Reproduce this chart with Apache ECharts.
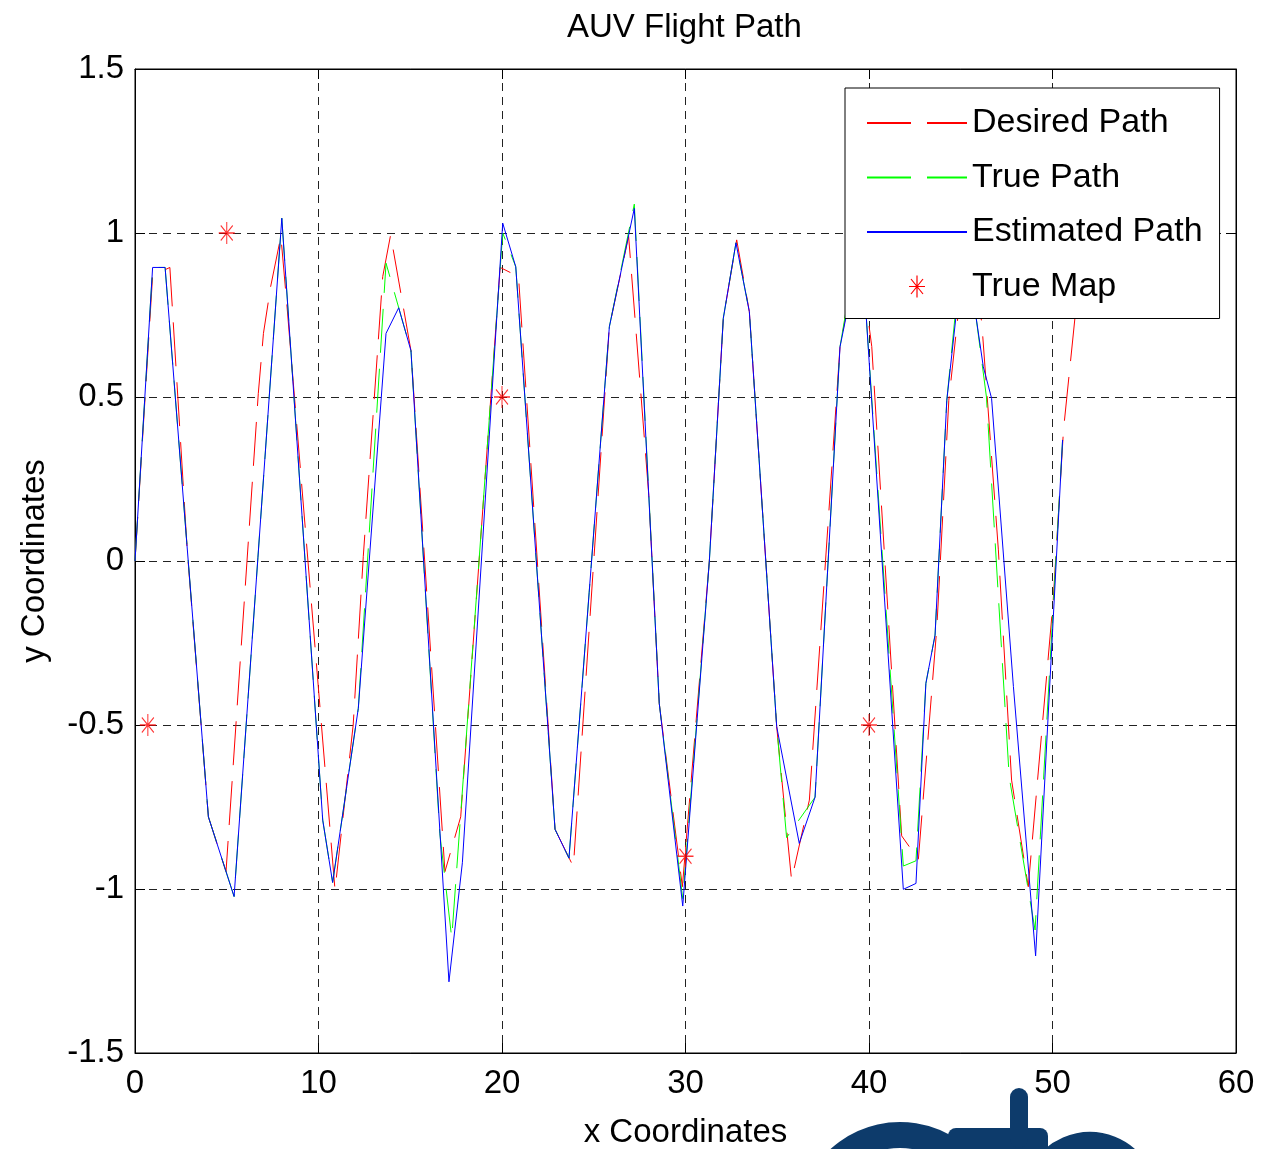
<!DOCTYPE html>
<html><head><meta charset="utf-8">
<script src="https://cdn.jsdelivr.net/npm/echarts@6/dist/echarts.min.js"></script>
<style>html,body{margin:0;padding:0;background:#fff}#c{width:1272px;height:1149px}</style>
</head><body><div id="c"></div>
<script>
// ---- data ----
const desiredX = [0, 0.96, 1.9, 2.85, 4.0, 4.96, 6.72, 7.0, 7.39, 7.95, 8.27, 10.9, 11.89, 12.44, 13.5, 13.93, 15.04, 16.89, 17.75, 19.9, 20.9, 22.89, 23.89, 25.85, 26.9, 28.0, 28.57, 29.83, 31.3, 32.06, 32.79, 33.48, 34.97, 35.78, 36.75, 38.42, 39.5, 39.96, 40.15, 41.78, 42.69, 43.7, 44.35, 45.3, 46.14, 47.05, 47.77, 48.68, 50.04, 50.6, 51.23, 52.0];
const desiredY = [0, 0.87, 0.895, 0.03, -0.78, -0.947, 0.511, 0.694, 0.836, 0.99, 0.786, -1.003, -0.5, 0.013, 0.867, 0.994, 0.641, -0.947, -0.78, 0.895, 0.867, -0.818, -0.932, 0.714, 0.99, 0.2, -0.434, -0.993, 0.0, 0.74, 0.979, 0.76, -0.505, -0.973, -0.729, 0.653, 0.98, 0.735, 0.654, -0.838, -0.91, -0.2, 0.49, 0.98, 0.73, 0.034, -0.668, -0.993, -0.119, 0.4, 0.745, 1.0];

const trueX = [0, 0.96, 1.64, 4.0, 5.4, 8.0, 10.23, 10.77, 12.17, 13.68, 15.04, 16.61, 17.26, 20.04, 20.75, 22.89, 23.65, 25.85, 27.21, 28.57, 29.85, 31.3, 32.06, 32.75, 33.48, 34.97, 35.51, 37.06, 38.42, 39.4, 39.85, 41.87, 42.56, 43.1, 43.6, 44.24, 45.1, 45.83, 46.4, 47.64, 49.05, 50.55];
const trueY = [0, 0.895, 0.895, -0.78, -1.023, 1.045, -0.79, -0.98, -0.449, 0.908, 0.641, -0.83, -1.15, 1.0, 0.897, -0.818, -0.906, 0.714, 1.088, -0.434, -1.03, 0.0, 0.74, 0.97, 0.76, -0.505, -0.843, -0.72, 0.653, 0.98, 0.745, -0.93, -0.914, -0.373, -0.226, 0.49, 0.98, 0.745, 0.5, -0.658, -1.125, 0.369];

const estX = [0, 0.96, 1.64, 4.0, 5.4, 8.0, 10.23, 10.77, 12.17, 13.68, 14.37, 15.04, 17.11, 17.84, 20.04, 20.75, 22.89, 23.65, 25.85, 27.21, 28.57, 29.85, 31.3, 32.06, 32.75, 33.48, 34.97, 36.2, 37.06, 38.42, 39.5, 39.85, 41.87, 42.56, 43.1, 43.6, 44.24, 45.2, 45.83, 46.23, 46.68, 47.87, 49.08, 50.55];
const estY = [0, 0.895, 0.895, -0.78, -1.023, 1.045, -0.79, -0.98, -0.449, 0.694, 0.772, 0.641, -1.283, -0.92, 1.03, 0.897, -0.818, -0.906, 0.714, 1.075, -0.434, -1.052, 0.0, 0.74, 0.97, 0.76, -0.505, -0.861, -0.72, 0.653, 0.95, 0.745, -1.001, -0.983, -0.373, -0.226, 0.49, 0.98, 0.745, 0.592, 0.496, -0.383, -1.204, 0.369];

const mapX = [0.7, 5, 20, 30, 40];
const mapY = [-0.5, 1, 0.5, -0.9, -0.5];

const seriesNames = ['Desired Path', 'True Path', 'Estimated Path', 'True Map'];
const xTicks = [0, 10, 20, 30, 40, 50, 60];
const yTicks = [-1.5, -1, -0.5, 0, 0.5, 1, 1.5];
// --------------------------------------

const zip = (xs, ys) => xs.map((x, i) => [x, ys[i]]);
const FONT = 'Liberation Sans, Arial, Helvetica, sans-serif';
const starPath = 'path://M0,-11L0,11M-8,0L8,0M-6,-7.5L6,7.5M-6,7.5L6,-7.5';
const dash = [44, 16];
const NAVY = '#0d3b6b';

const chart = echarts.init(document.getElementById('c'), null, {renderer: 'canvas'});
const axisCommon = {
  type: 'value',
  axisLine: {show: true, onZero: false, lineStyle: {color: '#000', width: 1}},
  axisTick: {show: true, inside: true, length: 10, lineStyle: {color: '#000', width: 1}},
  minorTick: {show: false}
};
chart.setOption({
  animation: false,
  backgroundColor: '#fff',
  textStyle: {fontFamily: FONT, color: '#000'},
  title: {
    text: 'AUV Flight Path', left: 562, top: 6,
    textStyle: {fontFamily: FONT, fontSize: 33, fontWeight: 'normal', color: '#000'}
  },
  grid: {left: 135, top: 69, width: 1101, height: 984, show: true, borderColor: '#000', borderWidth: 1,
         backgroundColor: '#fff', containLabel: false, outerBoundsMode: 'none'},
  legend: {
    orient: 'vertical', left: 845, top: 88, z: 20,
    padding: [18, 17, 15, 21],
    itemWidth: 100, itemHeight: 22, itemGap: 20.5, itemTextGap: 16,
    backgroundColor: '#fff', borderColor: '#000', borderWidth: 1, borderRadius: 0,
    textStyle: {fontFamily: FONT, fontSize: 34, lineHeight: 34, color: '#000'},
    itemStyle: {opacity: 0},
    data: [
      {name: seriesNames[0]},
      {name: seriesNames[1]},
      {name: seriesNames[2]},
      {name: seriesNames[3], itemStyle: {opacity: 1, color: '#ff0000', borderColor: '#ff0000', borderWidth: 1.2}}
    ],
    selectedMode: false
  },
  xAxis: [
    Object.assign({}, axisCommon, {
      min: xTicks[0], max: xTicks[xTicks.length - 1], interval: 10, position: 'bottom',
      name: 'x Coordinates', nameLocation: 'middle', nameGap: 63,
      nameTextStyle: {fontFamily: FONT, fontSize: 33, color: '#000'},
      axisLabel: {show: true, margin: 14, fontFamily: FONT, fontSize: 33, color: '#000'},
      splitLine: {show: true, lineStyle: {color: '#222', width: 1, type: [8, 6]}}
    }),
    Object.assign({}, axisCommon, {
      min: xTicks[0], max: xTicks[xTicks.length - 1], interval: 10, position: 'top',
      axisLabel: {show: false}, splitLine: {show: false}
    })
  ],
  yAxis: [
    Object.assign({}, axisCommon, {
      min: yTicks[0], max: yTicks[yTicks.length - 1], interval: 0.5, position: 'left',
      name: 'y Coordinates', nameLocation: 'middle', nameGap: 84, nameRotate: 90,
      nameTextStyle: {fontFamily: FONT, fontSize: 33, color: '#000'},
      axisLabel: {show: true, margin: 11, fontFamily: FONT, fontSize: 33, color: '#000'},
      splitLine: {show: true, lineStyle: {color: '#222', width: 1, type: [8, 6]}}
    }),
    Object.assign({}, axisCommon, {
      min: yTicks[0], max: yTicks[yTicks.length - 1], interval: 0.5, position: 'right',
      axisLabel: {show: false}, splitLine: {show: false}
    })
  ],
  graphic: [
    {type: 'arc', shape: {cx: 900, cy: 1225, r: 90, startAngle: Math.PI * 1.05, endAngle: Math.PI * 1.7},
     style: {stroke: NAVY, lineWidth: 26, fill: null}, z: 1},
    {type: 'rect', shape: {x: 948, y: 1128, width: 100, height: 40, r: 8}, style: {fill: NAVY}, z: 1},
    {type: 'rect', shape: {x: 1010, y: 1088, width: 18, height: 60, r: 9}, style: {fill: NAVY}, z: 1},
    {type: 'arc', shape: {cx: 1090, cy: 1200, r: 55, startAngle: Math.PI * 1.12, endAngle: Math.PI * 1.92},
     style: {stroke: NAVY, lineWidth: 26, fill: null}, z: 1}
  ],
  series: [
    {name: seriesNames[0], type: 'line', data: zip(desiredX, desiredY), symbol: 'none', z: 2,
     lineStyle: {color: '#ff0000', width: 1, type: dash}, itemStyle: {color: '#ff0000'}},
    {name: seriesNames[1], type: 'line', data: zip(trueX, trueY), symbol: 'none', z: 2,
     lineStyle: {color: '#00ff00', width: 1, type: dash}, itemStyle: {color: '#00ff00'}},
    {name: seriesNames[2], type: 'line', data: zip(estX, estY), symbol: 'none', z: 2,
     lineStyle: {color: '#0000ff', width: 1, type: 'solid'}, itemStyle: {color: '#0000ff'}},
    {name: seriesNames[3], type: 'scatter', data: zip(mapX, mapY), z: 3,
     symbol: starPath, symbolSize: [16, 22], symbolKeepAspect: false,
     itemStyle: {color: '#ff0000', borderColor: '#ff0000', borderWidth: 1.2}}
  ]
});
</script>
</body></html>
